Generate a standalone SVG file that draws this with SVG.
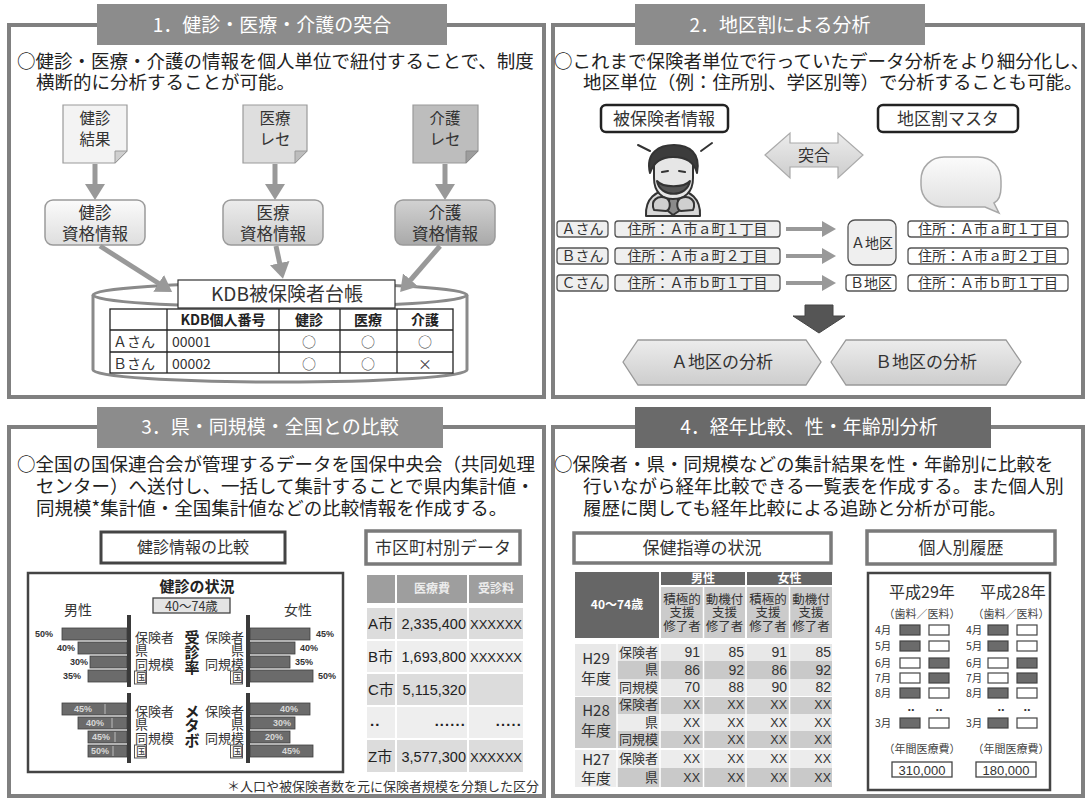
<svg xmlns="http://www.w3.org/2000/svg" width="1085" height="801" viewBox="0 0 1085 801">
<defs>
  <linearGradient id="gLight" x1="0" y1="0" x2="0" y2="1">
    <stop offset="0" stop-color="#fbfbfb"/><stop offset="1" stop-color="#dedede"/>
  </linearGradient>
  <linearGradient id="gMid" x1="0" y1="0" x2="0" y2="1">
    <stop offset="0" stop-color="#ececec"/><stop offset="1" stop-color="#cdcdcd"/>
  </linearGradient>
  <linearGradient id="gDark" x1="0" y1="0" x2="0" y2="1">
    <stop offset="0" stop-color="#d2d2d2"/><stop offset="1" stop-color="#a9a9a9"/>
  </linearGradient>
  <marker id="ah" markerUnits="userSpaceOnUse" markerWidth="18" markerHeight="20" refX="4" refY="10" orient="auto">
    <path d="M0,0 L16,10 L0,20 Z" fill="#999"/>
  </marker>
  <marker id="ahs" markerUnits="userSpaceOnUse" markerWidth="16" markerHeight="16" refX="3" refY="8" orient="auto">
    <path d="M0,0 L14,8 L0,16 Z" fill="#999"/>
  </marker>
  <style>
    .jp { font-family: "Noto Sans CJK JP", "Noto Sans", sans-serif; }
    .lat { font-family: "Liberation Sans", "Noto Sans CJK JP", sans-serif; }
    .frame { fill: #fff; stroke: #808080; stroke-width: 4; }
    .tab { fill: #8c8c8c; }
    .tabDark { fill: #6a6a6a; }
    .ttl { fill: #fff; font-size: 19px; text-anchor: middle; }
    .body { fill: #222; font-size: 18.5px; }
    .mid { text-anchor: middle; }
    .end { text-anchor: end; }
    .conn { stroke: #999; stroke-width: 5; fill: none; }
    .connS { stroke: #999; stroke-width: 4; fill: none; }
    .doc { stroke: #9a9a9a; stroke-width: 1.2; }
    .rbox { stroke: #9a9a9a; stroke-width: 1.5; }
    .cell { fill: none; stroke: #222; stroke-width: 1.3; }
    .tag { fill: #fff; stroke: #555; stroke-width: 1.3; }
    .tagG { fill: #efefef; stroke: #555; stroke-width: 1.3; }
    .sub { fill: #fff; stroke: #444; stroke-width: 3; }
    .subG { fill: #fff; stroke: #7a7a7a; stroke-width: 3.5; }
    .bar { fill: #6b6b6b; stroke: #3f3f3f; stroke-width: 0.8; }
    .axis { fill: #3a3a3a; }
    .pct { font-size: 9px; font-weight: bold; fill: #333; }
    .pctIn { font-size: 9px; font-weight: bold; fill: #d8d8d8; text-anchor: middle; }
    .lab { font-size: 13px; fill: #333; }
    .vbold { font-size: 15px; font-weight: bold; fill: #222; text-anchor: middle; }
    .mbox { stroke: #444; stroke-width: 1.2; }
  </style>
</defs>

<!-- ===== Panel 1 ===== -->
<g id="panel1">
  <rect class="frame" x="9" y="25" width="535" height="372"/>
  <rect class="tab" x="97" y="4" width="350" height="41"/>
  <text class="jp ttl" x="272" y="32">1．健診・医療・介護の突合</text>
  <text class="jp body" x="17" y="68">○健診・医療・介護の情報を個人単位で紐付することで、制度</text>
  <text class="jp body" x="36" y="89">横断的に分析することが可能。</text>
</g>

<g id="doc-kenshin">
  <path class="doc" d="M63,105 H127 V151 L115,163 H63 Z" fill="#f3f3f3"/>
  <path d="M127,151 L115,151 L115,163 Z" fill="#cfcfcf" stroke="#9a9a9a" stroke-width="1"/>
  <text class="jp mid" x="95" y="124" font-size="15.5" fill="#333">健診</text>
  <text class="jp mid" x="95" y="145" font-size="15.5" fill="#333">結果</text>
</g>
<g id="doc-iryo">
  <path class="doc" d="M243,105 H307 V151 L295,163 H243 Z" fill="#dedede"/>
  <path d="M307,151 L295,151 L295,163 Z" fill="#bdbdbd" stroke="#9a9a9a" stroke-width="1"/>
  <text class="jp mid" x="275" y="124" font-size="15.5" fill="#333">医療</text>
  <text class="jp mid" x="275" y="145" font-size="15.5" fill="#333">レセ</text>
</g>
<g id="doc-kaigo">
  <path class="doc" d="M413,105 H478 V151 L466,163 H413 Z" fill="#bdbdbd"/>
  <path d="M478,151 L466,151 L466,163 Z" fill="#9d9d9d" stroke="#8a8a8a" stroke-width="1"/>
  <text class="jp mid" x="445" y="124" font-size="15.5" fill="#333">介護</text>
  <text class="jp mid" x="445" y="145" font-size="15.5" fill="#333">レセ</text>
</g>

<g id="box-kenshin">
  <rect class="rbox" x="45" y="200" width="100" height="45" rx="8" fill="url(#gLight)"/>
  <text class="jp mid" x="95" y="219" font-size="16.5" fill="#333">健診</text>
  <text class="jp mid" x="95" y="240" font-size="16.5" fill="#333">資格情報</text>
</g>
<g id="box-iryo">
  <rect class="rbox" x="223" y="200" width="100" height="45" rx="8" fill="url(#gMid)"/>
  <text class="jp mid" x="273" y="219" font-size="16.5" fill="#333">医療</text>
  <text class="jp mid" x="273" y="240" font-size="16.5" fill="#333">資格情報</text>
</g>
<g id="box-kaigo">
  <rect class="rbox" x="395" y="200" width="100" height="45" rx="8" fill="url(#gDark)"/>
  <text class="jp mid" x="445" y="219" font-size="16.5" fill="#333">介護</text>
  <text class="jp mid" x="445" y="240" font-size="16.5" fill="#333">資格情報</text>
</g>

<g id="kdb-ledger">
  <path d="M93,295 V370 A187,12 0 0 0 467,370 V295" fill="#fff" stroke="#8a8a8a" stroke-width="3"/>
  <ellipse cx="280" cy="295" rx="187" ry="12" fill="#fff" stroke="#8a8a8a" stroke-width="3"/>
  <rect x="178" y="280" width="217" height="28" fill="#fff" stroke="#333" stroke-width="1.2"/>
  <text class="jp mid" x="287" y="301" font-size="19" fill="#333">KDB被保険者台帳</text>
  <!-- table grid -->
  <rect class="cell" x="110" y="309" width="343" height="64"/>
  <line class="cell" x1="110" y1="330" x2="453" y2="330"/>
  <line class="cell" x1="110" y1="352" x2="453" y2="352"/>
  <line class="cell" x1="167" y1="309" x2="167" y2="373"/>
  <line class="cell" x1="279" y1="309" x2="279" y2="373"/>
  <line class="cell" x1="340" y1="309" x2="340" y2="373"/>
  <line class="cell" x1="397" y1="309" x2="397" y2="373"/>
  <g class="jp" font-size="14" font-weight="bold" fill="#222" text-anchor="middle">
    <text x="223" y="325">KDB個人番号</text>
    <text x="309" y="325">健診</text>
    <text x="368" y="325">医療</text>
    <text x="425" y="325">介護</text>
  </g>
  <g class="jp" font-size="14" fill="#333">
    <text x="113" y="347">Ａさん</text>
    <text x="113" y="369">Ｂさん</text>
    <text x="172" y="347">00001</text>
    <text x="172" y="369">00002</text>
  </g>
  <g class="jp" font-size="14" fill="#444" text-anchor="middle">
    <text x="309" y="347">○</text><text x="368" y="347">○</text><text x="425" y="347">○</text>
    <text x="309" y="369">○</text><text x="368" y="369">○</text><text x="425" y="369">×</text>
  </g>
</g>

<!-- ===== Panel 2 ===== -->
<g id="panel2">
  <rect class="frame" x="553" y="25" width="530" height="372"/>
  <rect class="tab" x="635" y="4" width="290" height="41"/>
  <text class="jp ttl" x="780" y="32">2．地区割による分析</text>
  <text class="jp body" x="554" y="68" font-size="18">○これまで保険者単位で行っていたデータ分析をより細分化し、</text>
  <text class="jp body" x="583" y="89">地区単位（例：住所別、学区別等）で分析することも可能。</text>
</g>

<g id="insured-info">
  <rect x="601" y="105" width="127" height="27" rx="5" fill="#fff" stroke="#222" stroke-width="2.5"/>
  <text class="jp mid" x="664" y="125" font-size="17" fill="#333">被保険者情報</text>
</g>
<g id="district-master">
  <rect x="878" y="105" width="140" height="27" rx="5" fill="#fff" stroke="#222" stroke-width="2.5"/>
  <text class="jp mid" x="948" y="125" font-size="17" fill="#333">地区割マスタ</text>
</g>
<g id="match">
  <polygon points="765,155 790,133 790,143 838,143 838,133 863,155 838,178 838,167 790,167 790,178" fill="url(#gMid)" stroke="#aaa" stroke-width="1.2"/>
  <text class="jp mid" x="814" y="161" font-size="16" fill="#333">突合</text>
</g>

<g id="person" stroke="#333" stroke-width="2" stroke-linejoin="round" stroke-linecap="round">
  <line x1="638" y1="145" x2="650" y2="151"/>
  <line x1="712" y1="143" x2="701" y2="151"/>
  <path d="M646,216 C645,199 655,190 673,189 C691,190 701,199 700,216 Z" fill="#d8d8d8"/>
  <path d="M670,192 L677,192 L679,211 L673,215 L668,211 Z" fill="#8a8a8a"/>
  <path d="M654,163 C654,150 693,150 693,163 L693,178 C693,193 684,199 673,199 C663,199 654,193 654,178 Z" fill="#e6e6e6"/>
  <path d="M650,173 C645,152 660,145 674,145 C689,145 701,153 697,173 C694,161 685,157 673,157 C662,157 654,161 650,173 Z" fill="#3c3c3c"/>
  <path d="M657,181 C660,198 687,198 690,181 C684,188 663,188 657,181 Z" fill="#555"/>
  <line x1="662" y1="172" x2="668" y2="171"/>
  <line x1="679" y1="171" x2="685" y2="172"/>
  <path d="M654,210 C650,200 658,195 666,198 C671,201 671,209 666,211 Z" fill="#cfcfcf"/>
  <path d="M693,210 C697,200 689,195 681,198 C676,201 676,209 681,211 Z" fill="#cfcfcf"/>
</g>

<g id="bubble">
  <path d="M944,157 H978 C992,157 1001,167 1001,181 V187 C1001,196 998,201 994,203 L999,213 L985,207 H944 C931,207 921,198 921,185 V180 C921,167 931,157 944,157 Z" fill="url(#gLight)" stroke="#a8a8a8" stroke-width="1.5"/>
</g>

<g id="row-a">
  <rect class="tagG" x="557" y="221" width="51" height="16" rx="3"/>
  <text class="jp mid" x="582.5" y="234" font-size="14" fill="#333">Ａさん</text>
  <rect class="tagG" x="615" y="221" width="165" height="16" rx="3"/>
  <text class="jp mid" x="697.5" y="234" font-size="14" fill="#333">住所：Ａ市ａ町１丁目</text>
</g>
<g id="row-b">
  <rect class="tagG" x="557" y="248" width="51" height="16" rx="3"/>
  <text class="jp mid" x="582.5" y="261" font-size="14" fill="#333">Ｂさん</text>
  <rect class="tagG" x="615" y="248" width="165" height="16" rx="3"/>
  <text class="jp mid" x="697.5" y="261" font-size="14" fill="#333">住所：Ａ市ａ町２丁目</text>
</g>
<g id="row-c">
  <rect class="tagG" x="557" y="275" width="51" height="16" rx="3"/>
  <text class="jp mid" x="582.5" y="288" font-size="14" fill="#333">Ｃさん</text>
  <rect class="tagG" x="615" y="275" width="165" height="16" rx="3"/>
  <text class="jp mid" x="697.5" y="288" font-size="14" fill="#333">住所：Ａ市ｂ町１丁目</text>
</g>
<g id="district-a">
  <rect x="848" y="220" width="48" height="45" rx="7" fill="#efefef" stroke="#555" stroke-width="1.3"/>
  <text class="jp mid" x="872" y="248" font-size="14" fill="#333">Ａ地区</text>
  <rect class="tag" x="908" y="221" width="160" height="16" rx="3"/>
  <text class="jp mid" x="988" y="234" font-size="14" fill="#333">住所：Ａ市ａ町１丁目</text>
  <rect class="tag" x="908" y="248" width="160" height="16" rx="3"/>
  <text class="jp mid" x="988" y="261" font-size="14" fill="#333">住所：Ａ市ａ町２丁目</text>
</g>
<g id="district-b">
  <rect class="tag" x="846" y="275" width="50" height="16" rx="3"/>
  <text class="jp mid" x="871" y="288" font-size="14" fill="#333">Ｂ地区</text>
  <rect class="tag" x="908" y="275" width="160" height="16" rx="3"/>
  <text class="jp mid" x="988" y="288" font-size="14" fill="#333">住所：Ａ市ｂ町１丁目</text>
</g>
<g id="result-arrow">
  <polygon points="805,305 833,305 833,316 845,316 819,333 793,316 805,316" fill="#555" stroke="#444" stroke-width="1"/>
</g>
<g id="analysis-a">
  <polygon points="623,362 638,340 806,340 821,362 806,385 638,385" fill="url(#gMid)" stroke="#999" stroke-width="1.3"/>
  <text class="jp mid" x="722" y="368" font-size="17" fill="#333">Ａ地区の分析</text>
</g>
<g id="analysis-b">
  <polygon points="831,362 846,340 1006,340 1021,362 1006,385 846,385" fill="url(#gMid)" stroke="#999" stroke-width="1.3"/>
  <text class="jp mid" x="926" y="368" font-size="17" fill="#333">Ｂ地区の分析</text>
</g>

<!-- ===== Panel 3 ===== -->
<g id="panel3">
  <rect class="frame" x="9" y="427" width="535" height="369"/>
  <rect class="tab" x="97" y="407" width="346" height="41"/>
  <text class="jp ttl" x="270" y="434">3．県・同規模・全国との比較</text>
  <text class="jp body" x="17" y="471">○全国の国保連合会が管理するデータを国保中央会（共同処理</text>
  <text class="jp body" x="36" y="493">センター）へ送付し、一括して集計することで県内集計値・</text>
  <text class="jp body" x="36" y="515">同規模*集計値・全国集計値などの比較情報を作成する。</text>
  <text class="jp end" x="539" y="791" font-size="13" fill="#333">＊人口や被保険者数を元に保険者規模を分類した区分</text>
</g>

<g id="checkup-compare">
  <rect class="sub" x="101" y="532" width="184" height="31"/>
  <text class="jp mid" x="193" y="553" font-size="16" fill="#333">健診情報の比較</text>
</g>

<g id="checkup-chart">
  <rect x="28" y="573" width="315" height="199" fill="#fff" stroke="#444" stroke-width="2.5"/>
  <text class="jp mid" x="197" y="592" font-size="15" font-weight="bold" fill="#222">健診の状況</text>
  <rect x="153" y="598" width="77" height="15" fill="#e4e4e4" stroke="#444" stroke-width="1.3"/>
  <text class="jp mid" x="191.5" y="610.5" font-size="12.5" fill="#333">40〜74歳</text>
  <text class="jp" x="64" y="615" font-size="14" fill="#333">男性</text>
  <text class="jp" x="284" y="615" font-size="14" fill="#333">女性</text>

  <rect class="axis" x="127" y="615" width="4" height="72"/>
  <rect class="axis" x="127" y="693" width="4" height="70"/>
  <rect class="axis" x="246" y="615" width="4" height="72"/>
  <rect class="axis" x="246" y="693" width="4" height="70"/>

  <!-- consultation rate bars -->
  <rect class="bar" x="62" y="628" width="65" height="12"/>
  <rect class="bar" x="78" y="642" width="49" height="12"/>
  <rect class="bar" x="90" y="656" width="37" height="12"/>
  <rect class="bar" x="88" y="670" width="39" height="12"/>
  <text class="lat pct" x="35" y="637">50%</text>
  <text class="lat pct" x="57" y="651">40%</text>
  <text class="lat pct" x="70" y="665">30%</text>
  <text class="lat pct" x="63" y="679">35%</text>
  <rect class="bar" x="250" y="628" width="60" height="12"/>
  <rect class="bar" x="250" y="642" width="45" height="12"/>
  <rect class="bar" x="250" y="656" width="40" height="12"/>
  <rect class="bar" x="250" y="670" width="63" height="12"/>
  <text class="lat pct" x="316" y="637">45%</text>
  <text class="lat pct" x="300" y="651">40%</text>
  <text class="lat pct" x="295" y="665">35%</text>
  <text class="lat pct" x="318" y="679">50%</text>

  <!-- metabolic bars -->
  <rect class="bar" x="62" y="703" width="65" height="12"/>
  <rect class="bar" x="78" y="717" width="49" height="12"/>
  <rect class="bar" x="88" y="731" width="39" height="12"/>
  <rect class="bar" x="88" y="745" width="39" height="12"/>
  <g stroke="#bdbdbd" stroke-width="1">
    <line x1="105" y1="704" x2="105" y2="714"/>
    <line x1="112" y1="718" x2="112" y2="728"/>
    <line x1="115" y1="732" x2="115" y2="742"/>
    <line x1="113" y1="746" x2="113" y2="756"/>
    <line x1="275" y1="704" x2="275" y2="714"/>
    <line x1="267" y1="718" x2="267" y2="728"/>
    <line x1="260" y1="732" x2="260" y2="742"/>
    <line x1="277" y1="746" x2="277" y2="756"/>
  </g>
  <text class="lat pctIn" x="83" y="712">45%</text>
  <text class="lat pctIn" x="95" y="726">40%</text>
  <text class="lat pctIn" x="101" y="740">45%</text>
  <text class="lat pctIn" x="100" y="754">50%</text>
  <rect class="bar" x="250" y="703" width="60" height="12"/>
  <rect class="bar" x="250" y="717" width="45" height="12"/>
  <rect class="bar" x="250" y="731" width="40" height="12"/>
  <rect class="bar" x="250" y="745" width="63" height="12"/>
  <text class="lat pctIn" x="289" y="712">40%</text>
  <text class="lat pctIn" x="282" y="726">30%</text>
  <text class="lat pctIn" x="274" y="740">20%</text>
  <text class="lat pctIn" x="291" y="754">45%</text>

  <!-- category labels -->
  <g class="jp lab">
    <text x="135" y="642">保険者</text>
    <text x="135" y="655">県</text>
    <text x="135" y="669">同規模</text>
    <text x="136" y="682" font-size="11">国</text>
    <text x="135" y="716">保険者</text>
    <text x="135" y="729">県</text>
    <text x="135" y="743">同規模</text>
    <text x="136" y="756" font-size="11">国</text>
  </g>
  <g class="jp lab" text-anchor="end">
    <text x="244" y="642">保険者</text>
    <text x="244" y="655">県</text>
    <text x="244" y="669">同規模</text>
    <text x="243" y="682" font-size="11">国</text>
    <text x="244" y="716">保険者</text>
    <text x="244" y="729">県</text>
    <text x="244" y="743">同規模</text>
    <text x="243" y="756" font-size="11">国</text>
  </g>
  <g fill="none" stroke="#444" stroke-width="0.9">
    <rect x="134.5" y="671" width="12" height="13"/>
    <rect x="230.5" y="671" width="12" height="13"/>
    <rect x="134.5" y="745" width="12" height="13"/>
    <rect x="230.5" y="745" width="12" height="13"/>
  </g>
  <g class="jp vbold">
    <text x="192" y="643">受</text>
    <text x="192" y="658">診</text>
    <text x="192" y="673">率</text>
    <text x="192" y="717">メ</text>
    <text x="192" y="731">タ</text>
    <text x="192" y="746">ボ</text>
  </g>
</g>

<g id="municipal-data">
  <rect class="subG" x="366" y="531" width="154" height="33"/>
  <text class="jp mid" x="443" y="554" font-size="17" fill="#333">市区町村別データ</text>
  <rect x="367" y="575" width="28" height="28" fill="#9e9e9e"/>
  <rect x="397" y="575" width="70" height="28" fill="#9e9e9e"/>
  <rect x="469" y="575" width="54" height="28" fill="#9e9e9e"/>
  <text class="jp mid" x="432" y="593" font-size="12" font-weight="bold" fill="#ececec">医療費</text>
  <text class="jp mid" x="496" y="593" font-size="12" font-weight="bold" fill="#ececec">受診料</text>
  <rect x="367" y="608" width="156" height="31" fill="#dcdcdc"/>
  <rect x="367" y="641" width="156" height="31" fill="#eeeeee"/>
  <rect x="367" y="674" width="156" height="31" fill="#dcdcdc"/>
  <rect x="367" y="707" width="156" height="31" fill="#eeeeee"/>
  <rect x="367" y="740" width="156" height="32" fill="#dcdcdc"/>
  <g stroke="#fff" stroke-width="2">
    <line x1="396" y1="608" x2="396" y2="772"/>
    <line x1="468" y1="608" x2="468" y2="772"/>
  </g>
  <g class="lat" font-size="15" fill="#222">
    <text x="368" y="629">A市</text>
    <text x="368" y="662">B市</text>
    <text x="368" y="695">C市</text>
    <text x="370" y="726" font-weight="bold" letter-spacing="1">..</text>
    <text x="368" y="762">Z市</text>
  </g>
  <g class="lat" font-size="14.5" fill="#222" text-anchor="end">
    <text x="466" y="629">2,335,400</text>
    <text x="466" y="662">1,693,800</text>
    <text x="466" y="695">5,115,320</text>
    <text x="466" y="726" font-weight="bold" letter-spacing="1.2">......</text>
    <text x="466" y="762">3,577,300</text>
  </g>
  <g class="lat" font-size="13" fill="#222" text-anchor="end">
    <text x="522" y="629" textLength="52">XXXXXX</text>
    <text x="522" y="662" textLength="52">XXXXXX</text>
    <text x="522" y="726" font-size="14.5" font-weight="bold" letter-spacing="1.2">.....</text>
    <text x="522" y="762" textLength="52">XXXXXX</text>
  </g>
</g>

<!-- ===== Panel 4 ===== -->
<g id="panel4">
  <rect class="frame" x="553" y="427" width="530" height="369"/>
  <rect class="tabDark" x="635" y="407" width="356" height="41"/>
  <text class="jp ttl" x="809" y="434">4．経年比較、性・年齢別分析</text>
  <text class="jp body" x="554" y="471">○保険者・県・同規模などの集計結果を性・年齢別に比較を</text>
  <text class="jp body" x="583" y="493">行いながら経年比較できる一覧表を作成する。また個人別</text>
  <text class="jp body" x="583" y="515">履歴に関しても経年比較による追跡と分析が可能。</text>
</g>

<g id="guidance-table">
  <rect class="subG" x="574" y="533" width="257" height="30"/>
  <text class="jp mid" x="702" y="554" font-size="17" fill="#333">保健指導の状況</text>

  <rect x="575" y="572" width="84" height="66" fill="#666"/>
  <text class="jp mid" x="617" y="609" font-size="12" font-weight="bold" fill="#fff">40〜74歳</text>
  <rect x="661" y="572" width="84" height="13" fill="#666"/>
  <rect x="747" y="572" width="85" height="13" fill="#666"/>
  <text class="jp mid" x="703" y="583" font-size="12" font-weight="bold" fill="#fff">男性</text>
  <text class="jp mid" x="789.5" y="583" font-size="12" font-weight="bold" fill="#fff">女性</text>
  <g fill="#cbcbcb">
    <rect x="661" y="587" width="42" height="51"/>
    <rect x="704" y="587" width="41" height="51"/>
    <rect x="747" y="587" width="42" height="51"/>
    <rect x="790" y="587" width="42" height="51"/>
  </g>
  <g class="jp mid" font-size="12.5" fill="#333">
    <text x="682" y="604">積極的</text><text x="682" y="617">支援</text><text x="682" y="631">修了者</text>
    <text x="724.5" y="604">動機付</text><text x="724.5" y="617">支援</text><text x="724.5" y="631">修了者</text>
    <text x="768" y="604">積極的</text><text x="768" y="617">支援</text><text x="768" y="631">修了者</text>
    <text x="811" y="604">動機付</text><text x="811" y="617">支援</text><text x="811" y="631">修了者</text>
  </g>

  <!-- body rows -->
  <g>
    <rect x="575" y="644" width="257" height="17" fill="#e8e8e8"/>
    <rect x="617" y="661" width="215" height="18" fill="#c9c9c9"/>
    <rect x="575" y="661" width="42" height="18" fill="#e8e8e8"/>
    <rect x="575" y="679" width="257" height="17" fill="#e8e8e8"/>
    <rect x="575" y="697" width="257" height="17" fill="#cbcbcb"/>
    <rect x="617" y="714" width="215" height="17" fill="#ececec"/>
    <rect x="575" y="714" width="42" height="17" fill="#cbcbcb"/>
    <rect x="575" y="731" width="257" height="17" fill="#cbcbcb"/>
    <rect x="575" y="750" width="257" height="18" fill="#ececec"/>
    <rect x="617" y="768" width="215" height="19" fill="#c9c9c9"/>
    <rect x="575" y="768" width="42" height="19" fill="#ececec"/>
  </g>
  <g stroke="#fff" stroke-width="1.5">
    <line x1="617" y1="644" x2="617" y2="787"/>
    <line x1="660" y1="587" x2="660" y2="787"/>
    <line x1="703.5" y1="587" x2="703.5" y2="787"/>
    <line x1="746" y1="572" x2="746" y2="787"/>
    <line x1="789.5" y1="587" x2="789.5" y2="787"/>
  </g>
  <g class="jp" font-size="15" fill="#333" text-anchor="middle">
    <text x="596" y="664">H29</text><text x="596" y="684">年度</text>
    <text x="596" y="716">H28</text><text x="596" y="736">年度</text>
    <text x="596" y="765">H27</text><text x="596" y="784">年度</text>
  </g>
  <g class="jp" font-size="13" fill="#333" text-anchor="end">
    <text x="658" y="657">保険者</text>
    <text x="658" y="674">県</text>
    <text x="658" y="692">同規模</text>
    <text x="658" y="709">保険者</text>
    <text x="658" y="727">県</text>
    <text x="658" y="744">同規模</text>
    <text x="658" y="763">保険者</text>
    <text x="658" y="782">県</text>
  </g>
  <g class="lat" font-size="14" fill="#333" text-anchor="end">
    <text x="700" y="657">91</text><text x="744" y="657">85</text><text x="787" y="657">91</text><text x="831" y="657">85</text>
    <text x="700" y="675">86</text><text x="744" y="675">92</text><text x="787" y="675">86</text><text x="831" y="675">92</text>
    <text x="700" y="692">70</text><text x="744" y="692">88</text><text x="787" y="692">90</text><text x="831" y="692">82</text>
  </g>
  <g class="lat" font-size="12.5" fill="#333" text-anchor="end">
    <text x="700" y="709">XX</text><text x="744" y="709">XX</text><text x="787" y="709">XX</text><text x="831" y="709">XX</text>
    <text x="700" y="727">XX</text><text x="744" y="727">XX</text><text x="787" y="727">XX</text><text x="831" y="727">XX</text>
    <text x="700" y="744">XX</text><text x="744" y="744">XX</text><text x="787" y="744">XX</text><text x="831" y="744">XX</text>
    <text x="700" y="763">XX</text><text x="744" y="763">XX</text><text x="787" y="763">XX</text><text x="831" y="763">XX</text>
    <text x="700" y="782">XX</text><text x="744" y="782">XX</text><text x="787" y="782">XX</text><text x="831" y="782">XX</text>
  </g>
</g>

<g id="personal-history">
  <rect class="subG" x="867" y="531" width="188" height="33"/>
  <text class="jp mid" x="961" y="554" font-size="17" fill="#333">個人別履歴</text>
  <rect x="868" y="573" width="182" height="217" fill="#fff" stroke="#444" stroke-width="2.5"/>
  <text class="jp mid" x="922" y="598" font-size="16" fill="#333">平成29年</text>
  <text class="jp mid" x="1013" y="598" font-size="16" fill="#333">平成28年</text>
  <text class="jp mid" x="922" y="618" font-size="11" fill="#444">（歯料／医料）</text>
  <text class="jp mid" x="1011" y="618" font-size="11" fill="#444">（歯料／医料）</text>
  <g class="jp" font-size="10.5" fill="#333">
    <text x="875" y="634">4月</text><text x="875" y="650">5月</text><text x="875" y="667">6月</text>
    <text x="875" y="682">7月</text><text x="875" y="697">8月</text><text x="875" y="727">3月</text>
    <text x="966" y="634">4月</text><text x="966" y="650">5月</text><text x="966" y="667">6月</text>
    <text x="966" y="682">7月</text><text x="966" y="697">8月</text><text x="966" y="727">3月</text>
  </g>
  <g class="mbox">
    <!-- 平成29年 -->
    <rect x="900" y="625" width="20" height="10" fill="#6b6b6b"/><rect x="929" y="625" width="20" height="10" fill="#fff"/>
    <rect x="900" y="641" width="20" height="10" fill="#6b6b6b"/><rect x="929" y="641" width="20" height="10" fill="#fff"/>
    <rect x="900" y="658" width="20" height="10" fill="#fff"/><rect x="929" y="658" width="20" height="10" fill="#6b6b6b"/>
    <rect x="900" y="673" width="20" height="10" fill="#fff"/><rect x="929" y="673" width="20" height="10" fill="#6b6b6b"/>
    <rect x="900" y="688" width="20" height="10" fill="#6b6b6b"/><rect x="929" y="688" width="20" height="10" fill="#fff"/>
    <rect x="900" y="718" width="20" height="10" fill="#6b6b6b"/><rect x="929" y="718" width="20" height="10" fill="#fff"/>
    <!-- 平成28年 -->
    <rect x="988" y="625" width="20" height="10" fill="#6b6b6b"/><rect x="1017" y="625" width="20" height="10" fill="#fff"/>
    <rect x="988" y="641" width="20" height="10" fill="#6b6b6b"/><rect x="1017" y="641" width="20" height="10" fill="#fff"/>
    <rect x="988" y="658" width="20" height="10" fill="#fff"/><rect x="1017" y="658" width="20" height="10" fill="#6b6b6b"/>
    <rect x="988" y="673" width="20" height="10" fill="#fff"/><rect x="1017" y="673" width="20" height="10" fill="#6b6b6b"/>
    <rect x="988" y="688" width="20" height="10" fill="#6b6b6b"/><rect x="1017" y="688" width="20" height="10" fill="#fff"/>
    <rect x="988" y="718" width="20" height="10" fill="#6b6b6b"/><rect x="1017" y="718" width="20" height="10" fill="#fff"/>
  </g>
  <g class="lat" font-size="13" font-weight="bold" fill="#333" text-anchor="middle">
    <text x="911" y="711">..</text><text x="939" y="711">..</text>
    <text x="1001" y="711">..</text><text x="1027" y="711">..</text>
  </g>
  <text class="jp mid" x="922" y="753" font-size="11" fill="#444">（年間医療費）</text>
  <text class="jp mid" x="1011" y="753" font-size="11" fill="#444">（年間医療費）</text>
  <rect x="892" y="762" width="60" height="15" fill="#fff" stroke="#444" stroke-width="1.3"/>
  <rect x="976" y="762" width="60" height="15" fill="#fff" stroke="#444" stroke-width="1.3"/>
  <text class="lat mid" x="922" y="774.5" font-size="13" fill="#333">310,000</text>
  <text class="lat mid" x="1006" y="774.5" font-size="13" fill="#333">180,000</text>
</g>

<!-- ===== Connectors ===== -->
<g id="connectors">
  <line class="conn" x1="95" y1="164" x2="95" y2="188" marker-end="url(#ah)"/>
  <line class="conn" x1="275" y1="164" x2="275" y2="188" marker-end="url(#ah)"/>
  <line class="conn" x1="445" y1="164" x2="445" y2="188" marker-end="url(#ah)"/>
  <line class="conn" x1="100" y1="246" x2="162" y2="285.5" marker-end="url(#ah)"/>
  <line class="conn" x1="276" y1="246" x2="280.5" y2="267" marker-end="url(#ah)"/>
  <line class="conn" x1="440" y1="246" x2="408" y2="283" marker-end="url(#ah)"/>
  <line class="connS" x1="786" y1="229" x2="825" y2="229" marker-end="url(#ahs)"/>
  <line class="connS" x1="786" y1="256" x2="825" y2="256" marker-end="url(#ahs)"/>
  <line class="connS" x1="786" y1="283" x2="825" y2="283" marker-end="url(#ahs)"/>
</g>
</svg>
